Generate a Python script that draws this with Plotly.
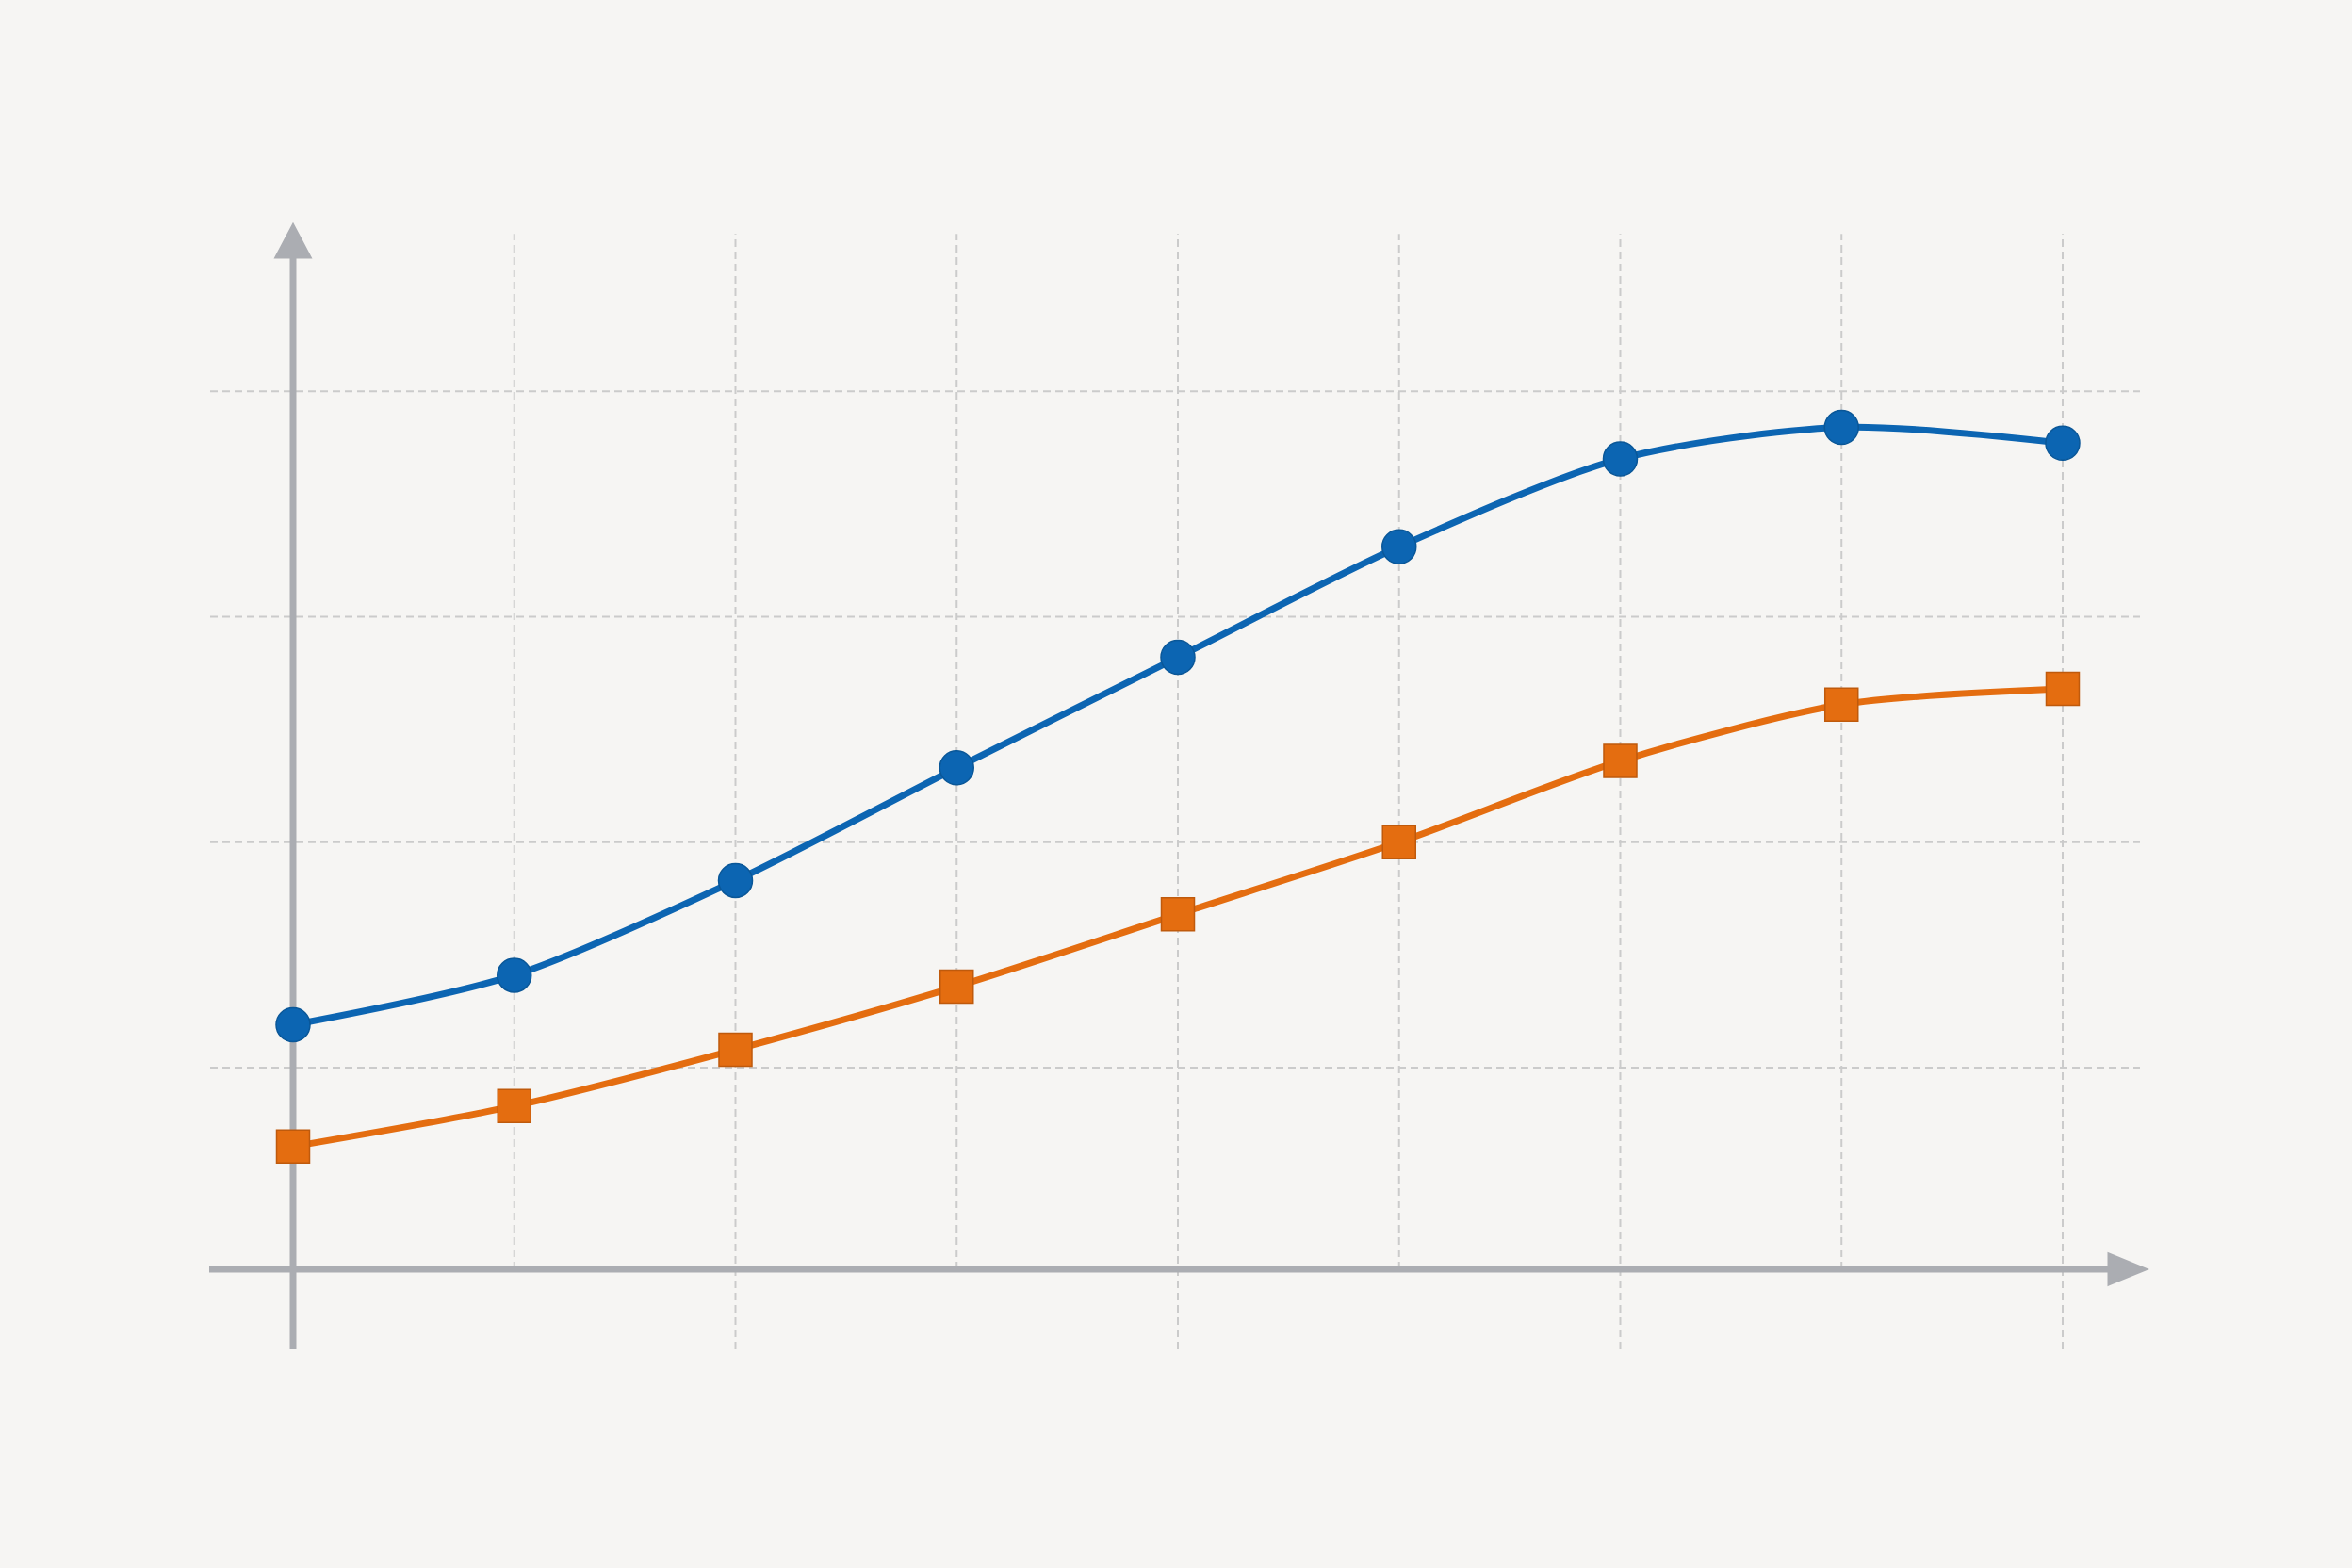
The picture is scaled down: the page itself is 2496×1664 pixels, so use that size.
import plotly.graph_objects as go

# ---- data (no labels in the original) ----
x_idx = [0, 1, 2, 3, 4, 5, 6, 7, 8]
series_blue = [11.9, 14.1, 18.3, 23.3, 28.2, 33.1, 37.0, 38.4, 37.7]
series_orange = [6.5, 8.3, 10.8, 13.6, 16.8, 20.0, 23.6, 26.1, 26.8]
grid_y = [10, 20, 30, 40]
baseline = 1.06

# ---- styling ----
W, H = 2496, 1664
BG = "#f6f5f3"
BLUE = "#0c65b2"
ORANGE = "#e46d10"
AXIS = "#abadb2"
GRID = "#cbcbcb"

# axis ranges (whole figure is the plot area)
x_range = [-1.3248, 9.3078]
y_range = [-12.19, 57.35]
px_x = (x_range[1] - x_range[0]) / W   # data units per pixel (x)
px_y = (y_range[1] - y_range[0]) / H   # data units per pixel (y)

fig = go.Figure()

shapes = []
# horizontal dashed gridlines
for gy in grid_y:
    shapes.append(dict(type="line", layer="below", x0=-88 * px_x, x1=8 + 82 * px_x,
                       y0=gy, y1=gy, line=dict(color=GRID, width=2, dash="8px,5px")))
# vertical dashed gridlines (every other one extends below the x axis)
top_v = grid_y[-1] + 167 * px_y
for i in x_idx[1:]:
    bottom = baseline - 85 * px_y if i % 2 == 0 else baseline
    shapes.append(dict(type="line", layer="below", x0=i, x1=i, y0=bottom, y1=top_v,
                       line=dict(color=GRID, width=2, dash="8px,5px")))

# y axis with arrow
y_tip = baseline + (1347 - 239) * px_y
y_base = baseline + (1347 - 273) * px_y
shapes.append(dict(type="line", layer="below", x0=0, x1=0,
                   y0=baseline - 85 * px_y, y1=y_base + 2 * px_y,
                   line=dict(color=AXIS, width=7)))
shapes.append(dict(type="path", layer="below",
                   path=f"M {-18*px_x} {y_base} L 0 {y_tip} L {18*px_x} {y_base} Z",
                   fillcolor=AXIS, line=dict(color=AXIS, width=3)))
# x axis with arrow
x_tip = (2277 - 311) * px_x
x_base = (2238 - 311) * px_x
shapes.append(dict(type="line", layer="below", x0=-89 * px_x, x1=x_base + 2 * px_x,
                   y0=baseline, y1=baseline, line=dict(color=AXIS, width=7)))
shapes.append(dict(type="path", layer="below",
                   path=f"M {x_base} {baseline - 16*px_y} L {x_tip} {baseline} L {x_base} {baseline + 16*px_y} Z",
                   fillcolor=AXIS, line=dict(color=AXIS, width=3)))

fig.add_trace(go.Scatter(
    x=x_idx, y=series_blue, mode="lines+markers",
    line=dict(color=BLUE, width=7, shape="spline", smoothing=0.8),
    marker=dict(symbol="circle", size=36, color=BLUE, line=dict(color="#0a5798", width=1.5)),
    showlegend=False, hoverinfo="skip"))
fig.add_trace(go.Scatter(
    x=x_idx, y=series_orange, mode="lines+markers",
    line=dict(color=ORANGE, width=7, shape="spline", smoothing=0.8),
    marker=dict(symbol="square", size=35, color=ORANGE, line=dict(color="#bf5a0c", width=1.5)),
    showlegend=False, hoverinfo="skip"))

fig.update_layout(
    width=W, height=H, autosize=False,
    margin=dict(l=0, r=0, t=0, b=0, pad=0),
    paper_bgcolor=BG, plot_bgcolor=BG,
    shapes=shapes,
    xaxis=dict(range=x_range, visible=False, showgrid=False, zeroline=False, fixedrange=True),
    yaxis=dict(range=y_range, visible=False, showgrid=False, zeroline=False, fixedrange=True),
)

fig.write_html("out.html", config={"displayModeBar": False},
               post_script="document.body.style.margin='0';document.body.style.overflow='hidden';document.body.style.background='%s';" % BG)
